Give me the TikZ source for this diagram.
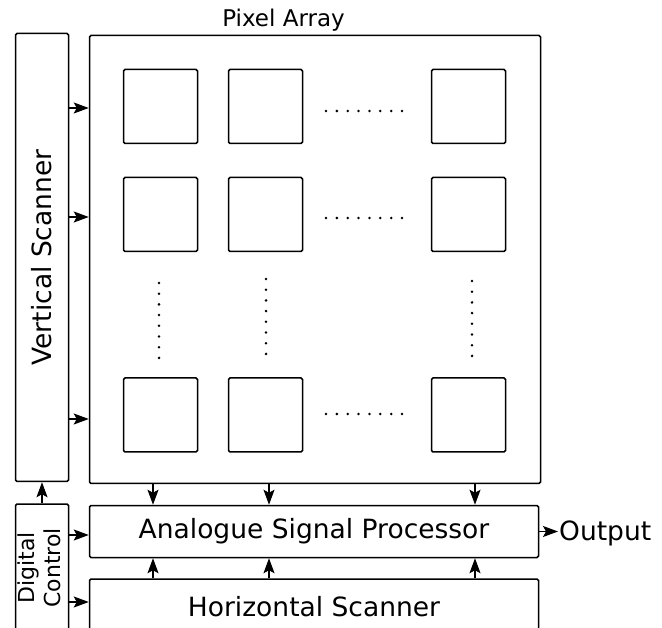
\documentclass[tikz,border=0pt]{standalone}
\usepackage{fontspec}
\setmainfont{DejaVu Sans}
\usetikzlibrary{arrows.meta}

\begin{document}
\begin{tikzpicture}[x=1pt,y=-1pt,
  block/.style={draw, line width=1.5pt, rounded corners=1.5pt, inner sep=0pt},
  pixel/.style={draw, line width=1.5pt, rounded corners=1.5pt,
    minimum size=74pt, inner sep=0pt},
  sig/.style={-{Stealth[length=15pt,width=11pt,inset=3pt]}, line width=1.2pt},
  bigtext/.style={font=\fontsize{26.5}{30}\selectfont},
  smalltext/.style={font=\fontsize{22}{26}\selectfont}]
  \useasboundingbox (0,0) rectangle (662,628);

  % scanners, array and readout
  \node[block, bigtext, minimum width=53pt, minimum height=448pt] (vs)
    at (42,257.5) {\rotatebox{90}{Vertical Scanner}};
  \node[block, minimum width=451pt, minimum height=448pt] (pa) at (315,259.5) {};
  \node[font=\fontsize{23}{27}\selectfont, anchor=base] (patitle)
    at (283.5,27) {Pixel Array};
  \node[block, bigtext, minimum width=449pt, minimum height=52pt] (asp)
    at (314,531.5) {Analogue Signal Processor};
  \node[block, bigtext, minimum width=449pt, minimum height=56pt] (hs)
    at (314,607) {Horizontal Scanner};
  \node[block, smalltext, minimum width=53pt, minimum height=128pt] (dc)
    at (42,568) {\rotatebox{90}{\begin{tabular}{@{}c@{}}Digital\\Control\end{tabular}}};
  \node[bigtext, anchor=west, inner sep=1pt] (out) at (558,533) {Output};

  % pixels
  \foreach \c/\x in {1/160.5,2/265.5,3/468.5}
    \foreach \r/\y in {1/106.5,2/214.5,3/415}
      \node[pixel] (p\r\c) at (\x,\y) {};

  % dotted gaps between pixels
  \foreach \y in {111,218,414}
    \foreach \i in {0,...,7}
      \fill (326+10.86*\i,\y) circle (1.4pt);
  \foreach \x/\t in {159/283,266/279,472/281}
    \foreach \i in {0,...,7}
      \fill (\x,\t+10.7*\i) circle (1.4pt);

  % row select lines
  \foreach \y in {108,217,419}
    \draw[sig] (vs.east |- 0,\y) -- (pa.west |- 0,\y);

  % column lines to the processor
  \foreach \x in {153,269,475} {
    \draw[sig] (\x,0 |- pa.south) -- (\x,0 |- asp.north);
    \draw[sig] (\x,0 |- hs.north) -- (\x,0 |- asp.south);
  }

  % control
  \draw[sig] (dc.north) -- (vs.south);
  \draw[sig] (dc.east |- 0,535) -- (asp.west |- 0,535);
  \draw[sig] (dc.east |- 0,602) -- (hs.west |- 0,602);

  \draw[sig] (asp.east) -- (asp.east -| out.west);
\end{tikzpicture}
\end{document}
